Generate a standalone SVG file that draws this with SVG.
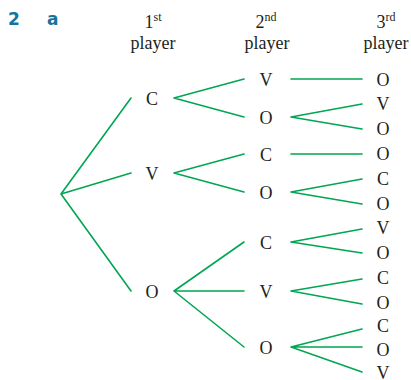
<svg xmlns="http://www.w3.org/2000/svg" width="411" height="380" viewBox="0 0 411 380">
<style>
.hd{font-family:"Liberation Serif","Times New Roman",serif;font-size:18px;fill:#231f20;text-anchor:middle}
.sup{font-size:12px}
.lb{font-family:"Liberation Serif","Times New Roman",serif;font-size:18px;fill:#231f20;text-anchor:middle}
.q{font-family:"DejaVu Sans","Liberation Sans",sans-serif;font-weight:bold;font-size:17px;fill:#17739c}
.ln{stroke:#00a651;stroke-width:1.6;fill:none;stroke-linecap:round}
</style>
<rect width="411" height="380" fill="#ffffff"/>
<g id="header">
<text class="q" x="8" y="25">2</text>
<text class="q" x="47" y="25">a</text>
<text class="hd" x="153" y="28">1<tspan class="sup" dy="-7">st</tspan></text>
<text class="hd" x="153" y="49">player</text>
<text class="hd" x="266" y="28">2<tspan class="sup" dy="-7">nd</tspan></text>
<text class="hd" x="267" y="49">player</text>
<text class="hd" x="386" y="28">3<tspan class="sup" dy="-7">rd</tspan></text>
<text class="hd" x="386" y="49">player</text>
</g>
<g id="connectors" class="ln">
<path d="M61 194L131 98M61 194L131 173M61 194L131 291"/>
<path d="M174 98L244 79M174 98L244 117"/>
<path d="M174 173L244 154M174 173L244 192"/>
<path d="M174 291L244 242M174 291L244 291M174 291L244 347"/>
<path d="M291 79L362 79"/>
<path d="M291 117L362 104M291 117L362 129"/>
<path d="M291 154L362 154"/>
<path d="M291 192L362 179M291 192L362 204"/>
<path d="M291 242L362 229M291 242L362 253"/>
<path d="M291 291L362 279M291 291L362 304"/>
<path d="M291 347L362 329M291 347L362 347M291 347L362 372"/>
</g>
<g id="n1C"><text class="lb" x="152" y="105">C</text></g>
<g id="n1V"><text class="lb" x="152" y="180">V</text></g>
<g id="n1O"><text class="lb" x="152" y="298">O</text></g>
<g id="n2CV"><text class="lb" x="266" y="86">V</text></g>
<g id="n2CO"><text class="lb" x="266" y="124">O</text></g>
<g id="n2VC"><text class="lb" x="266" y="161">C</text></g>
<g id="n2VO"><text class="lb" x="266" y="199">O</text></g>
<g id="n2OC"><text class="lb" x="266" y="249">C</text></g>
<g id="n2OV"><text class="lb" x="266" y="298">V</text></g>
<g id="n2OO"><text class="lb" x="266" y="354">O</text></g>
<g id="n3a"><text class="lb" x="383" y="86">O</text></g>
<g id="n3b"><text class="lb" x="383" y="110">V</text></g>
<g id="n3c"><text class="lb" x="383" y="135">O</text></g>
<g id="n3d"><text class="lb" x="383" y="160">O</text></g>
<g id="n3e"><text class="lb" x="383" y="185">C</text></g>
<g id="n3f"><text class="lb" x="383" y="210">O</text></g>
<g id="n3g"><text class="lb" x="383" y="234">V</text></g>
<g id="n3h"><text class="lb" x="383" y="259">O</text></g>
<g id="n3i"><text class="lb" x="383" y="284">C</text></g>
<g id="n3j"><text class="lb" x="383" y="309">O</text></g>
<g id="n3k"><text class="lb" x="383" y="332">C</text></g>
<g id="n3l"><text class="lb" x="383" y="356">O</text></g>
<g id="n3m"><text class="lb" x="383" y="379">V</text></g>
</svg>
